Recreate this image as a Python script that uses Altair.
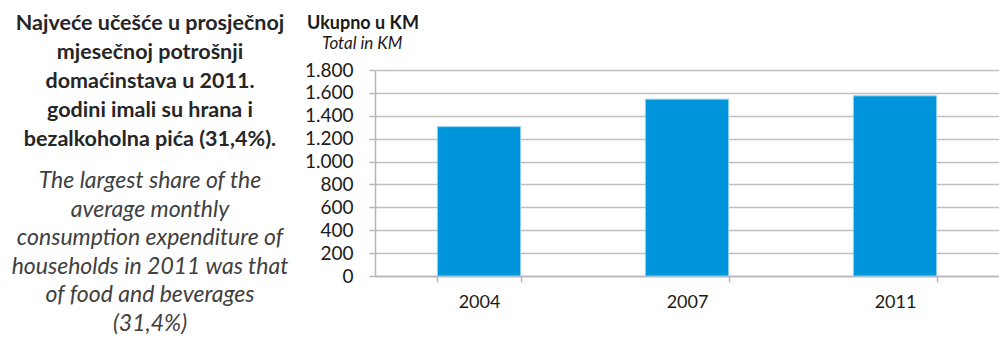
import altair as alt
import pandas as pd

# Average monthly household consumption expenditure, total in KM
years = ["2004", "2007", "2011"]
totals = [1305, 1545, 1574]

note_bs = [
    "Najveće učešće u prosječnoj",
    "mjesečnoj potrošnji",
    "domaćinstava u 2011.",
    "godini imali su hrana i",
    "bezalkoholna pića (31,4%).",
]
note_en = [
    "The largest share of the",
    "average monthly",
    "consumption expenditure of",
    "households in 2011 was that",
    "of food and beverages",
    "(31,4%)",
]
y_title_bs = "Ukupno u KM"
y_title_en = "Total in KM"
y_ticks = [0, 200, 400, 600, 800, 1000, 1200, 1400, 1600, 1800]

FONT = "Lato"
df = pd.DataFrame({"year": years, "total": totals})

bars = alt.Chart(df).mark_bar(
    color="#0094da", stroke="#8fd0f2", strokeWidth=1
).encode(
    x=alt.X(
        "year:N",
        sort=years,
        scale=alt.Scale(paddingInner=0.6, paddingOuter=0.3),
        axis=alt.Axis(
            title=None, labelAngle=0, tickBand="extent", ticks=True,
            tickSize=6, tickColor="#b5b5b5", tickWidth=1.5,
            domainColor="#b5b5b5", domainWidth=1.5, grid=False,
            labelFont=FONT, labelFontSize=18, labelColor="#1a1a1a",
            labelPadding=11,
        ),
    ),
    y=alt.Y(
        "total:Q",
        scale=alt.Scale(domain=[0, 1800], nice=False),
        axis=alt.Axis(
            title=None, values=y_ticks, tickSize=6, tickColor="#b5b5b5",
            tickWidth=1.5, domainColor="#b5b5b5", domainWidth=1.5,
            gridColor="#bfbfbf", gridWidth=1.5,
            labelFont=FONT, labelFontSize=19, labelColor="#1a1a1a",
            labelPadding=16,
            labelExpr="replace(format(datum.value, ','), ',', '.')",
        ),
    ),
)

one = alt.Data(values=[{}])

text_bs = alt.Chart(one).mark_text(
    text=note_bs, font=FONT, fontSize=21.5, fontWeight="bold", color="#262626",
    align="center", baseline="alphabetic", lineHeight=29,
).encode(x=alt.value(-225), y=alt.value(-40))

text_en = alt.Chart(one).mark_text(
    text=note_en, font=FONT, fontSize=23, fontStyle="italic", color="#404040",
    align="center", baseline="alphabetic", lineHeight=28.5,
).encode(x=alt.value(-225), y=alt.value(118))

title_bs = alt.Chart(one).mark_text(
    text=y_title_bs, font=FONT, fontSize=18, fontWeight="bold", color="#1a1a1a",
    align="left", baseline="alphabetic",
).encode(x=alt.value(-68), y=alt.value(-41))

title_en = alt.Chart(one).mark_text(
    text=y_title_en, font=FONT, fontSize=17, fontStyle="italic", color="#1a1a1a",
    align="left", baseline="alphabetic",
).encode(x=alt.value(-53), y=alt.value(-21))

chart = alt.layer(bars, text_bs, text_en, title_bs, title_en).properties(
    width=624,
    height=206,
    autosize=alt.AutoSizeParams(type="none"),
    padding={"left": 375, "top": 70, "right": 0, "bottom": 62},
    background="white",
).configure_view(stroke=None)

chart.save("out.html", embed_options={"renderer": "svg", "actions": False})
